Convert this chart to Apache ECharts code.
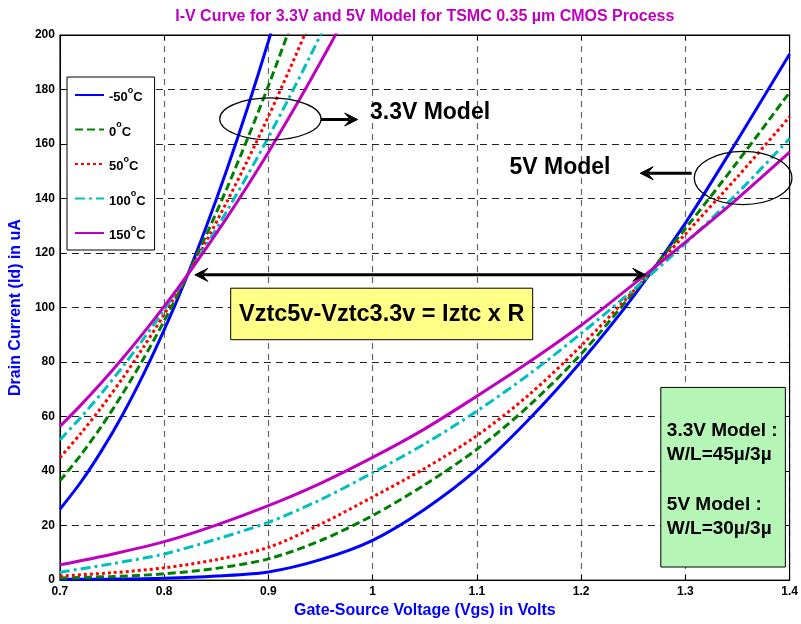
<!DOCTYPE html>
<html><head><meta charset="utf-8">
<script src="https://cdn.jsdelivr.net/npm/echarts@6/dist/echarts.min.js"></script>
<style>html,body{margin:0;padding:0;background:#fff}#c{width:801px;height:624px}</style>
</head><body><div id="c"></div>
<script>
// ---- Data ----
const temps = ['-50°C', '0°C', '50°C', '100°C', '150°C'];
const xTicks = [0.7, 0.8, 0.9, 1.0, 1.1, 1.2, 1.3, 1.4];
const yTicks = [0, 20, 40, 60, 80, 100, 120, 140, 160, 180, 200];

// 3.3V model (steep curves)
const vgs33 = [0.70,0.72,0.74,0.76,0.78,0.80,0.82,0.84,0.86,0.88,0.90,0.92,0.94,0.96,0.98];
const id33_m50 = [26.0,35.9,47.5,60.6,75.4,91.8,109.7,129.3,150.5,173.3,197.7,223.6];
const id33_0   = [36.4,45.9,56.5,68.3,81.1,95.1,110.1,126.3,143.6,162.0,181.4,202.0,223.7];
const id33_50  = [44.9,53.8,63.5,74.0,85.4,97.5,110.4,124.1,138.7,154.0,170.1,187.1,204.8];
const id33_100 = [51.4,59.7,68.6,78.2,88.4,99.2,110.6,122.6,135.3,148.6,162.5,177.1,192.2,208.0];
const id33_150 = [56.4,64.2,72.5,81.3,90.6,100.4,110.7,121.6,132.9,144.7,157.0,169.9,183.2,197.0,211.4];

// 5V model
const vgs5 = [0.70,0.75,0.80,0.85,0.90,0.95,1.00,1.05,1.10,1.15,1.20,1.25,1.30,1.35,1.40];
const id5_m50 = [0.3,0.4,0.7,1.5,3.0,7.5,14.6,26,40.6,59,80.2,104,131,161.5,193];
const id5_0   = [0.8,1.3,2.3,4.3,7.8,14.5,23.7,35,48,64,83,105.5,129,153.5,179];
const id5_50  = [1.5,2.7,4.5,7.5,12,20.5,30.5,41,53,68,86,106,127,148,170];
const id5_100 = [2.9,6,9.6,15,21.2,29.5,39.4,50,62,75.5,90.5,106.5,123.5,142,162];
const id5_150 = [5.6,9.5,14.1,20.2,27.3,35.5,45,55.5,67.5,80,93.5,108.5,124,140,157];

const titleText = 'I-V Curve for 3.3V and 5V Model for TSMC 0.35 µm CMOS Process';
const xName = 'Gate-Source Voltage (Vgs) in Volts';
const yName = 'Drain Current (Id) in uA';
const noteEq = 'Vztc5v-Vztc3.3v = Iztc x R';
const note33 = '3.3V Model';
const note5 = '5V Model';
const boxLines = ['3.3V Model :', 'W/L=45µ/3µ', '5V Model :', 'W/L=30µ/3µ'];

// ---- Styling ----
const FONT = '"Liberation Sans", Arial, sans-serif';
const colors = ['#0000ff', '#008000', '#ff0000', '#00bfbf', '#bf00bf'];
const dashes = ['solid', [8, 4], [3, 3], [10, 4, 3, 4], 'solid'];
const set33 = [id33_m50, id33_0, id33_50, id33_100, id33_150];
const set5 = [id5_m50, id5_0, id5_50, id5_100, id5_150];

function pairs(xs, ys) { return ys.map((y, i) => [xs[i], y]); }

const series = [];
temps.forEach((t, i) => {
  [[vgs33, set33[i]], [vgs5, set5[i]]].forEach(([xs, ys]) => {
    series.push({
      name: t, type: 'line', data: pairs(xs, ys), showSymbol: false, symbol: 'none',
      smooth: 0.3, clip: true,
      lineStyle: { color: colors[i], width: 3, type: dashes[i], cap: 'butt' },
      itemStyle: { color: colors[i] }, z: 3
    });
  });
});

const chart = echarts.init(document.getElementById('c'), null, { renderer: 'canvas' });
const axisCommon = {
  type: 'value',
  axisLine: { show: true, onZero: false, lineStyle: { color: '#000', width: 1 } },
  axisTick: { show: true, inside: true, length: 5, lineStyle: { color: '#000' } },
};
chart.setOption({
  backgroundColor: '#fff',
  animation: false,
  textStyle: { fontFamily: FONT },
  grid: { left: 58, top: 35, width: 732, height: 549, show: true, borderColor: '#000', borderWidth: 1, backgroundColor: 'transparent' },
  legend: {
    data: temps, orient: 'vertical', left: 67, top: 77,
    backgroundColor: '#fff', borderColor: '#000', borderWidth: 1,
    padding: [9, 9, 8, 7], itemGap: 16.5, itemWidth: 29, itemHeight: 12,
    itemStyle: { opacity: 0 },
    formatter: n => `{n|${n.replace('°C', '')}}{s|o}{n|C}`,
    textStyle: {
      color: '#000', fontFamily: FONT,
      rich: {
        n: { fontSize: 13, fontWeight: 'bold', color: '#000', lineHeight: 18, verticalAlign: 'bottom', fontFamily: FONT },
        s: { fontSize: 9, fontWeight: 'bold', color: '#000', lineHeight: 10, verticalAlign: 'top', fontFamily: FONT }
      }
    }
  },
  xAxis: [
    Object.assign({}, axisCommon, {
      min: xTicks[0], max: xTicks[xTicks.length - 1], interval: 0.1, position: 'bottom',
      axisLabel: { color: '#000', fontSize: 12, fontWeight: 'bold', margin: 6, fontFamily: FONT },
      splitLine: { show: true, lineStyle: { color: '#666', type: [6, 5], width: 1.2 } },
      name: xName, nameLocation: 'middle', nameGap: 21,
      nameTextStyle: { color: '#0000ff', fontSize: 16, fontWeight: 'bold', fontFamily: FONT }
    }),
    Object.assign({}, axisCommon, {
      min: xTicks[0], max: xTicks[xTicks.length - 1], interval: 0.1, position: 'top',
      axisLabel: { show: false }, splitLine: { show: false }
    })
  ],
  yAxis: [
    Object.assign({}, axisCommon, {
      min: yTicks[0], max: yTicks[yTicks.length - 1], interval: 20, position: 'left',
      axisLabel: { color: '#000', fontSize: 12, fontWeight: 'bold', margin: 5, fontFamily: FONT },
      splitLine: { show: true, lineStyle: { color: '#222', type: [7, 5], width: 1 } },
      name: yName, nameLocation: 'middle', nameGap: 29,
      nameTextStyle: { color: '#0000ff', fontSize: 16, fontWeight: 'bold', fontFamily: FONT }
    }),
    Object.assign({}, axisCommon, {
      min: yTicks[0], max: yTicks[yTicks.length - 1], interval: 20, position: 'right',
      axisLabel: { show: false }, splitLine: { show: false }
    })
  ],
  series: series
});

// ---- Annotations anchored in data coordinates ----
const P = (x, y) => chart.convertToPixel({ xAxisIndex: 0, yAxisIndex: 0 }, [x, y]);
function ellipse(x0, x1, yTop, yBot) {
  const a = P(x0, yTop), b = P(x1, yBot);
  return { type: 'ellipse', z: 10, shape: { cx: (a[0] + b[0]) / 2, cy: (a[1] + b[1]) / 2, rx: (b[0] - a[0]) / 2, ry: (b[1] - a[1]) / 2 },
    style: { fill: 'none', stroke: '#000', lineWidth: 1.2 } };
}
function arrowHead(tip, dir) {
  const L = 13, W = 6.5, N = 0.55;
  const [tx, ty] = tip;
  return { type: 'polygon', z: 10, shape: { points: [[tx, ty], [tx - dir * L, ty - W], [tx - dir * L * N, ty], [tx - dir * L, ty + W]] },
    style: { fill: '#000', stroke: '#000', lineWidth: 1 } };
}
function arrow(from, to, heads) {
  const a = P(from[0], from[1]), b = P(to[0], to[1]);
  const dir = Math.sign(b[0] - a[0]);
  const els = [{ type: 'line', z: 10, shape: { x1: a[0] + (heads === 2 ? dir * 8 : 0), y1: a[1], x2: b[0] - dir * 8, y2: b[1] }, style: { stroke: '#000', lineWidth: 3 } }];
  els.push(arrowHead(b, dir));
  if (heads === 2) els.push(arrowHead(a, -dir));
  return els;
}
function box(x0, x1, yTop, yBot, fill) {
  const a = P(x0, yTop), b = P(x1, yBot);
  return { type: 'rect', z: 9, shape: { x: a[0], y: a[1], width: b[0] - a[0], height: b[1] - a[1] }, style: { fill: fill, stroke: '#000', lineWidth: 1 } };
}
function label(text, x, y, size, align) {
  const p = P(x, y);
  return { type: 'text', z: 11, x: p[0], y: p[1], style: { text: text, fill: '#000', font: `bold ${size}px ${FONT}`, align: align || 'left', verticalAlign: 'middle' } };
}

const yb = P(0.8638, 107.1), yb2 = P(1.1535, 88.2);
const gb = P(1.2764, 70.7);
const plotMid = (P(0.7, 0)[0] + P(1.4, 0)[0]) / 2;

const graphics = [
  { type: 'text', z: 11, x: plotMid, y: 17, style: { text: titleText, fill: '#c000c0', font: `bold 16px ${FONT}`, align: 'center', verticalAlign: 'middle' } },
  ellipse(0.8533, 0.9505, 176.9, 161.5),
  ellipse(1.3085, 1.4022, 157.3, 137.8),
  ...arrow([0.9505, 169.0], [0.9856, 169.0], 1),
  ...arrow([1.306, 149.3], [1.2566, 149.3], 1),
  ...arrow([0.8294, 112.0], [1.262, 112.0], 2),
  label(note33, 0.9974, 171.5, 23),
  label(note5, 1.1313, 151.5, 23),
  box(0.8638, 1.1535, 107.1, 88.2, '#ffff88'),
  { type: 'text', z: 11, x: (yb[0] + yb2[0]) / 2, y: (yb[1] + yb2[1]) / 2 + 1, style: { text: noteEq, fill: '#000', font: `bold 23.5px ${FONT}`, align: 'center', verticalAlign: 'middle' } },
  box(1.2764, 1.3959, 70.7, 4.8, '#b5f5b5'),
  ...boxLines.map((t, i) => ({ type: 'text', z: 11, x: gb[0] + 6, y: gb[1] + [43, 67, 117, 141.5][i],
    style: { text: t, fill: '#000', font: `bold 19px ${FONT}`, align: 'left', verticalAlign: 'middle' } }))
];
chart.setOption({ graphic: graphics });
</script></body></html>
